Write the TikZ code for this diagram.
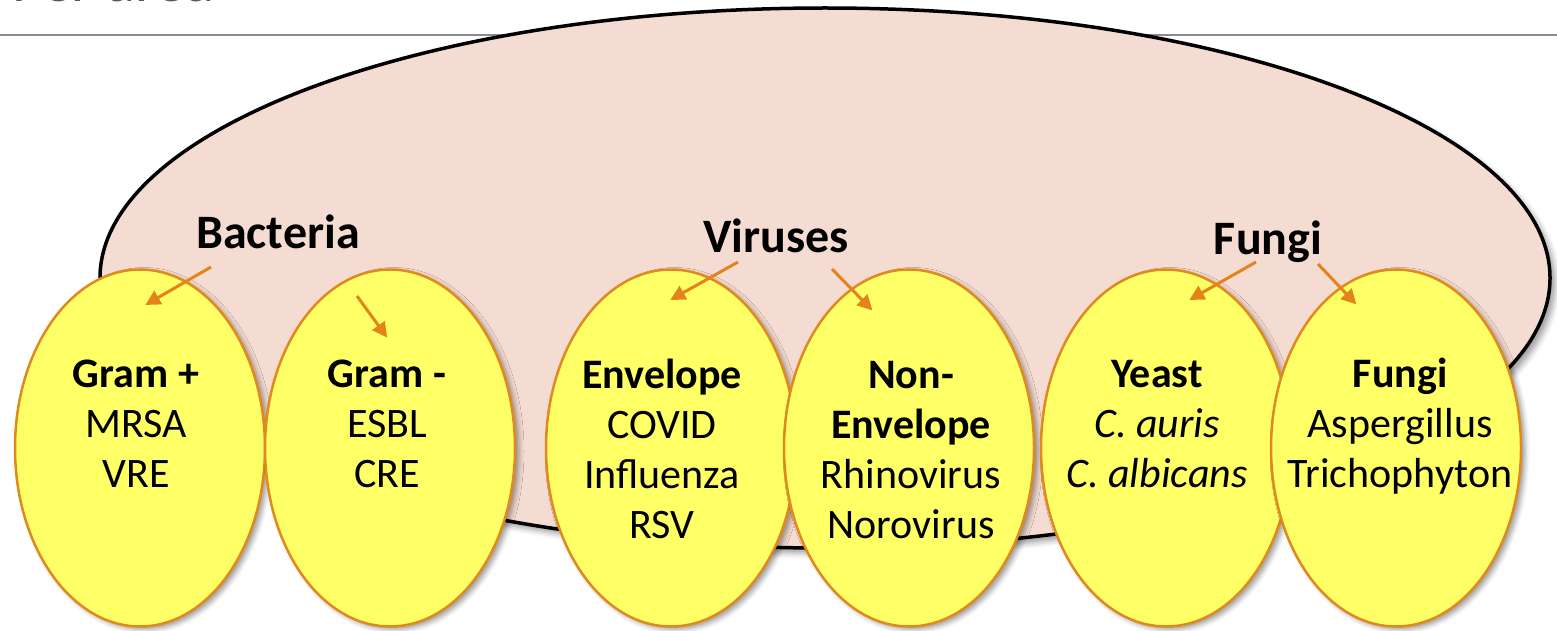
\documentclass[tikz,border=0pt]{standalone}
\usepackage{fontspec}
\setmainfont{Carlito}
\usetikzlibrary{shapes.geometric,arrows.meta,shadows.blur}
\definecolor{pinkfill}{HTML}{F5DCD2}
\definecolor{yel}{HTML}{FFFF66}
\definecolor{orangeline}{HTML}{E0891E}
\definecolor{arrowor}{HTML}{E5831B}
\definecolor{titlegray}{HTML}{595959}
\definecolor{rulegray}{HTML}{8C8C8C}
\tikzset{
  bigcloud/.style={ellipse, draw=black, line width=3.5pt, fill=pinkfill, inner sep=0pt,
     minimum width=1450pt, minimum height=540pt,
     blur shadow={shadow xshift=5pt, shadow yshift=-5pt, shadow blur radius=6pt, shadow opacity=40}},
  egg/.style={ellipse, draw=orangeline, line width=2.5pt, fill=yel, inner sep=0pt,
     minimum width=250pt, minimum height=357pt,
     blur shadow={shadow xshift=4pt, shadow yshift=-3pt, shadow blur radius=5pt, shadow opacity=40}},
  txt/.style={align=center, inner sep=0pt, anchor=base, font=\fontsize{42}{50}\selectfont},
  grp/.style={inner sep=0pt, anchor=base, font=\fontsize{48}{56}\selectfont\bfseries},
  arr/.style={draw=arrowor, line width=3pt, -{Triangle[length=15pt,width=15pt]}, shorten >=-2pt},
}
\begin{document}
\begin{tikzpicture}[x=1pt,y=-1pt]
\useasboundingbox (0,0) rectangle (1557,631);
% partial title and rule
\node[anchor=base west, inner sep=0pt, text=titlegray, font=\fontsize{60}{66}\selectfont] (title) at (12,2) {Per area};
\coordinate (ruleL) at (0,35);
\coordinate (ruleR) at (1557,35);
\draw[rulegray, line width=1.5pt] (ruleL) -- (ruleR);
% big background ellipse
\node[bigcloud] (cloud) at (825,278) {};
% yellow ellipses
\node[egg] (gpos) at (140,448) {};
\node[egg] (gneg) at (390,448) {};
\node[egg] (env) at (671,448) {};
\node[egg] (nonenv) at (909,448) {};
\node[egg] (yeast) at (1166,448) {};
\node[egg] (fungi) at (1396,448) {};
% ellipse texts (anchor = baseline of the last line)
\node[txt] (tgpos) at (136,487) {\textbf{Gram +}\\MRSA\\VRE};
\node[txt] (tgneg) at (387,487) {\textbf{Gram -}\\ESBL\\CRE};
\node[txt] (tenv) at (662,538) {\textbf{Envelope}\\COVID\\Influenza\\RSV};
\node[txt] (tnonenv) at (911,538) {\textbf{Non-}\\\textbf{Envelope}\\Rhinovirus\\Norovirus};
\node[txt] (tyeast) at (1157,487) {\textbf{Yeast}\\\textit{C. auris}\\\textit{C. albicans}};
\node[txt] (tfungi) at (1400,487) {\textbf{Fungi}\\Aspergillus\\Trichophyton};
% group labels
\node[grp] (bact) at (278,248) {Bacteria};
\node[grp] (vir) at (776,252) {Viruses};
\node[grp] (fun) at (1268,254) {Fungi};
% arrow end points
\coordinate (b1s) at (211,267); \coordinate (b1e) at (147,304);
\coordinate (b2s) at (357,296); \coordinate (b2e) at (386,336);
\coordinate (v1s) at (738,262); \coordinate (v1e) at (672,299);
\coordinate (v2s) at (832,269); \coordinate (v2e) at (871,309);
\coordinate (f1s) at (1256,262); \coordinate (f1e) at (1191,299);
\coordinate (f2s) at (1318,264); \coordinate (f2e) at (1355,303);
\draw[arr] (b1s) -- (b1e);
\draw[arr] (b2s) -- (b2e);
\draw[arr] (v1s) -- (v1e);
\draw[arr] (v2s) -- (v2e);
\draw[arr] (f1s) -- (f1e);
\draw[arr] (f2s) -- (f2e);
\end{tikzpicture}
\end{document}
